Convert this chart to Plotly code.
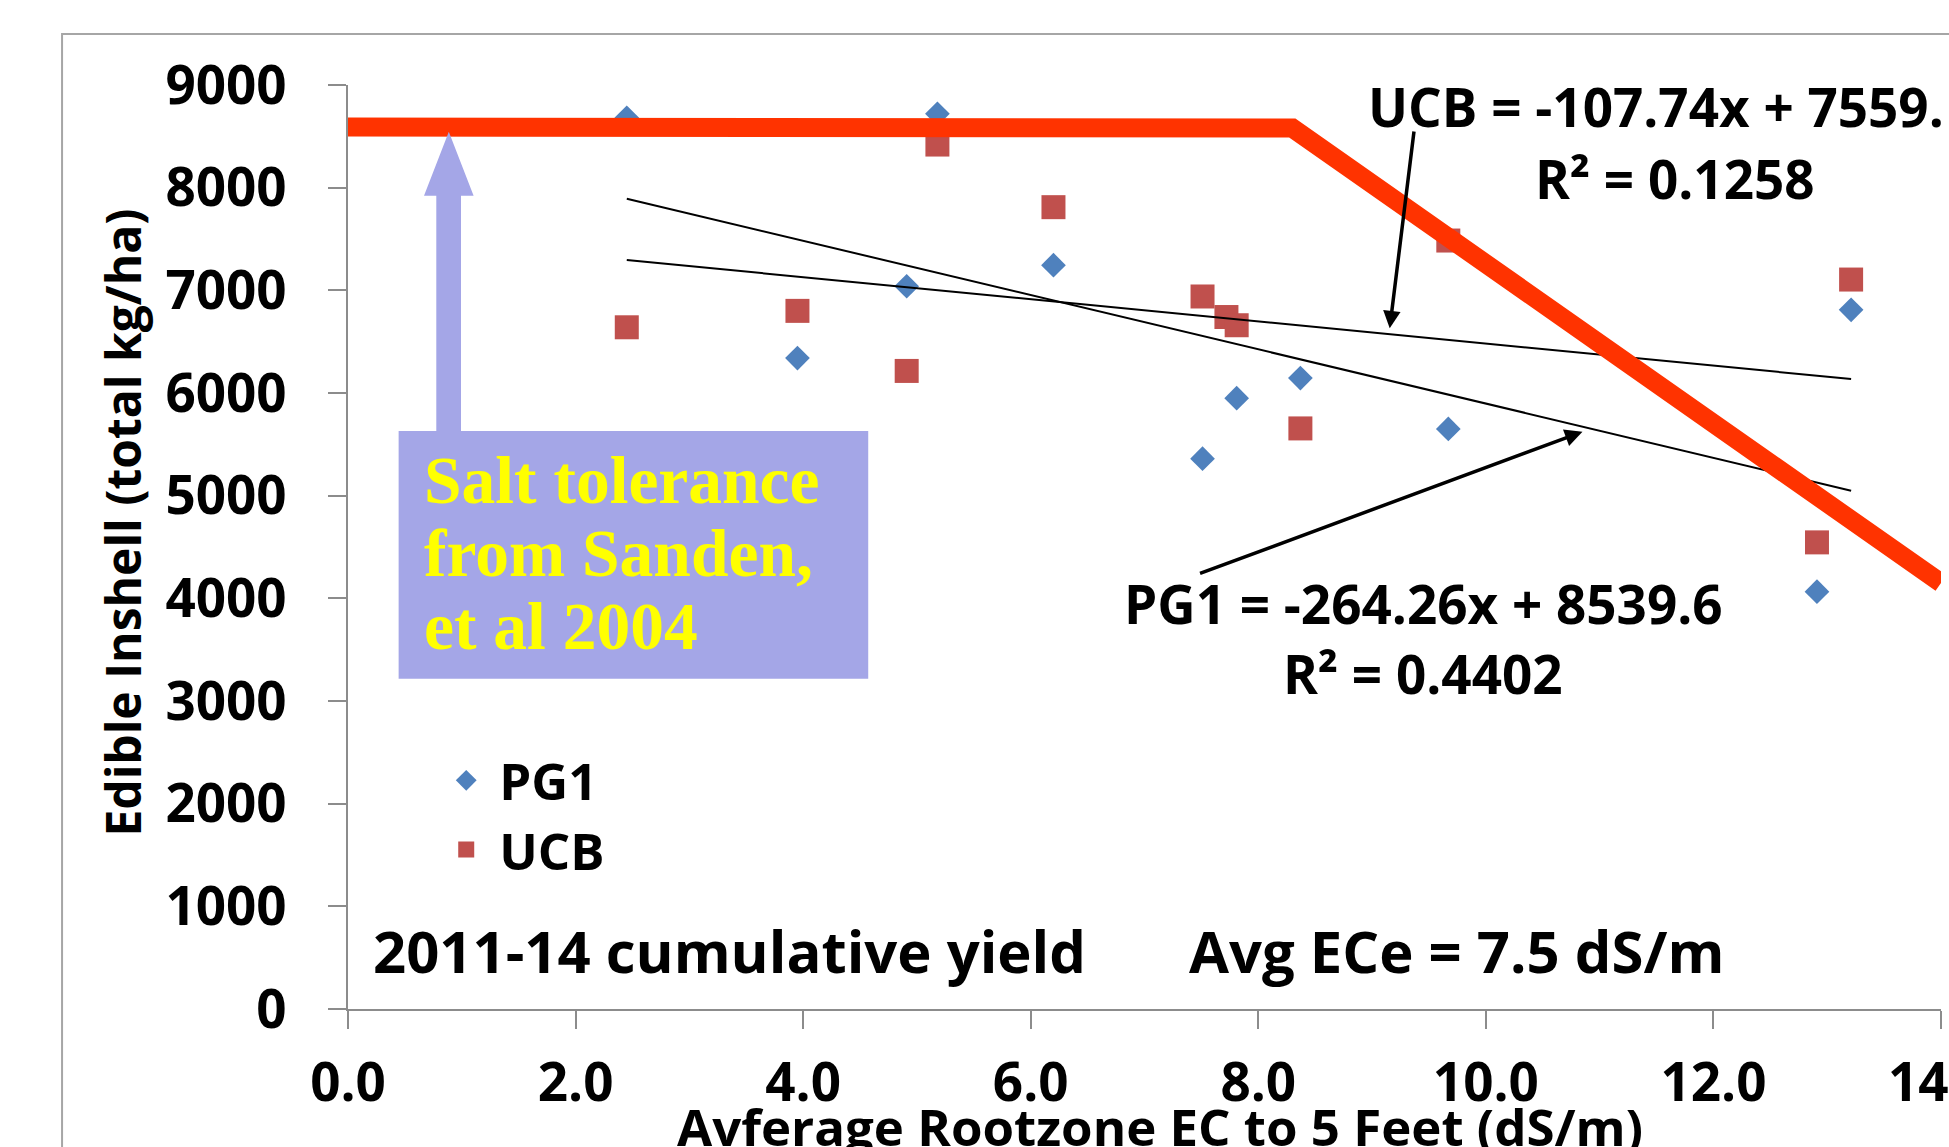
import plotly.graph_objects as go

# ---------------- data ----------------
pg1_x = [2.45, 3.95, 4.91, 5.18, 6.20, 7.51, 7.81, 8.37, 9.67, 12.91, 13.21]
pg1_y = [8680, 6340, 7040, 8720, 7245, 5360, 5950, 6145, 5650, 4065, 6810]

ucb_x = [2.45, 3.95, 4.91, 5.18, 6.20, 7.51, 7.72, 7.81, 8.37, 9.67, 12.91, 13.21]
ucb_y = [6640, 6800, 6215, 8420, 7810, 6940, 6740, 6660, 5655, 7485, 4545, 7105]

pg1_slope, pg1_intercept = -264.26, 8539.6
ucb_slope, ucb_intercept = -107.74, 7559.5

salt_x = [0.0, 8.3, 14.0]
salt_y = [8590, 8580, 4150]

x_ticks = [0, 2, 4, 6, 8, 10, 12, 14]
y_ticks = [0, 1000, 2000, 3000, 4000, 5000, 6000, 7000, 8000, 9000]

x_title = "Avferage Rootzone EC to 5 Feet (dS/m)"
y_title = "Edible Inshell (total kg/ha)"

FONT = "Open Sans"
AXIS_GREY = "#8c8c8c"

fig = go.Figure()

fig.add_trace(go.Scatter(
    x=pg1_x, y=pg1_y, mode="markers", name="PG1",
    marker=dict(symbol="diamond", size=19, color="#4F81BD", line=dict(width=0)),
))
fig.add_trace(go.Scatter(
    x=ucb_x, y=ucb_y, mode="markers", name="UCB",
    marker=dict(symbol="square", size=24, color="#C0504D", line=dict(width=0)),
))

# linear trendlines (from the printed equations, over the data range)
for xs, m, b in [(pg1_x, pg1_slope, pg1_intercept), (ucb_x, ucb_slope, ucb_intercept)]:
    x0, x1 = min(xs), max(xs)
    fig.add_trace(go.Scatter(
        x=[x0, x1], y=[m * x0 + b, m * x1 + b], mode="lines",
        line=dict(color="black", width=2), showlegend=False, hoverinfo="skip",
    ))

# salt tolerance threshold curve
fig.add_trace(go.Scatter(
    x=salt_x, y=salt_y, mode="lines",
    line=dict(color="#FF3300", width=19), showlegend=False, hoverinfo="skip",
))

# ---------------- annotations ----------------
bold = dict(family=FONT, color="black", weight="bold")
annos = [
    dict(x=8.95, y=8790, text="UCB = -107.74x + 7559.", xanchor="left", size=53),
    dict(x=11.66, y=8090, text="R² = 0.1258", xanchor="center", size=53),
    dict(x=9.456, y=3950, text="PG1 = -264.26x + 8539.6", xanchor="center", size=53),
    dict(x=9.447, y=3265, text="R² = 0.4402", xanchor="center", size=53),
    dict(x=0.200, y=570, text="2011-14 cumulative yield", xanchor="left", size=58),
    dict(x=7.37, y=570, text="Avg ECe = 7.5 dS/m", xanchor="left", size=58),
]
for a in annos:
    fig.add_annotation(x=a["x"], y=a["y"], text=a["text"], xanchor=a["xanchor"],
                       yanchor="middle", showarrow=False,
                       font=dict(size=a["size"], **bold))

# axis titles placed as in the reference
fig.add_annotation(xref="paper", yref="paper", x=0.5097, y=-0.127,
                   text=x_title, xanchor="center", yanchor="middle",
                   showarrow=False, font=dict(size=51, **bold))
fig.add_annotation(xref="paper", yref="paper", x=-0.1415, y=0.526,
                   text=y_title, textangle=-90, xanchor="center", yanchor="middle",
                   showarrow=False, font=dict(size=48, **bold))

# box text
box_lines = [("Salt tolerance", 5150), ("from Sanden,", 4435), ("et al 2004", 3725)]
for t, yy in box_lines:
    fig.add_annotation(x=0.650, y=yy, text=t, xanchor="left", yanchor="middle",
                       showarrow=False,
                       font=dict(family="Liberation Serif", size=67.5, color="#FFFF00",
                                 weight="bold"))

# black arrows
fig.add_annotation(x=9.155, y=6630, ax=9.37, ay=8561, axref="x", ayref="y",
                   text="", showarrow=True, arrowhead=2, arrowsize=1,
                   arrowwidth=3.5, arrowcolor="black")
fig.add_annotation(x=10.849, y=5623, ax=7.475, ay=4237, axref="x", ayref="y",
                   text="", showarrow=True, arrowhead=2, arrowsize=1,
                   arrowwidth=3.5, arrowcolor="black")

# lavender box and upward arrow
LAV = "#A4A6E7"
fig.add_shape(type="rect", x0=0.445, x1=4.572, y0=3217, y1=5630,
              xref="x", yref="y", fillcolor=LAV, line=dict(width=0), layer="above")
fig.add_shape(type="path", xref="x", yref="y", layer="above",
              path="M 0.776,5630 L 0.776,7922 L 0.668,7922 L 0.886,8545 "
                   "L 1.104,7922 L 0.993,7922 L 0.993,5630 Z",
              fillcolor=LAV, line=dict(width=0))

# outer chart border
fig.add_shape(type="rect", xref="paper", yref="paper",
              x0=-0.1795, x1=1.2, y0=-0.4, y1=1.0552,
              line=dict(color="#a6a6a6", width=2), fillcolor="rgba(0,0,0,0)")

fig.update_layout(
    width=1949, height=1147,
    margin=dict(l=348, r=8, t=85, b=138, autoexpand=False),
    paper_bgcolor="white", plot_bgcolor="white",
    showlegend=True,
    legend=dict(x=0.0535, y=0.2904, xanchor="left", yanchor="top",
                bgcolor="rgba(0,0,0,0)", font=dict(size=51, **bold),
                tracegroupgap=0, itemwidth=56),
    xaxis=dict(
        range=[0, 14], tickvals=x_ticks, tickformat=".1f", automargin=False,
        showgrid=False, zeroline=False, showline=True,
        linecolor=AXIS_GREY, linewidth=1.5,
        ticks="outside", ticklen=18, tickwidth=1.5, tickcolor=AXIS_GREY,
        tickfont=dict(size=53, **bold), ticklabelstandoff=9,
        ticklabeloverflow="allow",
    ),
    yaxis=dict(
        range=[0, 9000], tickvals=y_ticks, automargin=False,
        showgrid=False, zeroline=False, showline=True,
        linecolor=AXIS_GREY, linewidth=1.5,
        ticks="outside", ticklen=18, tickwidth=1.5, tickcolor=AXIS_GREY,
        tickfont=dict(size=53, **bold), ticklabelstandoff=31,
        ticklabeloverflow="allow",
    ),
)

fig.write_html("out.html", config={"displayModeBar": False},
               post_script="document.body.style.margin='0px';"
                           "document.body.style.overflow='hidden';")
